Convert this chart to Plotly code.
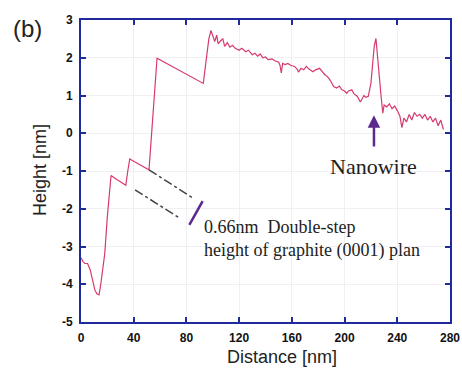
import plotly.graph_objects as go

# Height profile (Distance [nm], Height [nm])
distance = [0, 1.5, 3, 5, 7, 9, 10.5, 12, 13.7, 15, 16.5, 18, 20, 22.8, 26, 30, 34, 35.5, 37,
            40, 44, 48, 51.6, 53, 55, 57.7, 92.8, 95, 97, 98.6,
            100, 101.5, 103, 104, 106, 107.6, 109, 111, 113, 115, 117, 120, 122, 125, 127,
            130, 132, 134, 136, 138, 140, 142, 145, 147, 150, 151, 152, 153, 155, 157, 159,
            162, 164, 165, 167, 169, 171, 173, 176, 178, 181, 183, 185, 187, 189, 191.7,
            194, 196, 198, 200, 201.7, 203, 205.5, 207, 209.6, 212, 214.7, 216, 218, 220,
            221, 222.5, 223.8, 225.5, 227.5, 229, 230, 232, 234, 236, 238, 240, 242, 243.5,
            245, 247, 249, 251, 253, 255, 257, 259, 261, 263, 265, 267, 269, 271, 273, 275]
height = [-3.3, -3.4, -3.45, -3.45, -3.62, -3.9, -4.15, -4.25, -4.28, -4.0, -3.55, -3.2, -2.2, -1.12, -1.2, -1.28, -1.38, -1.0, -0.68,
          -0.74, -0.83, -0.9, -0.97, -0.3, 0.9, 1.99, 1.32, 1.9, 2.5, 2.72,
          2.6, 2.43, 2.6, 2.37, 2.45, 2.5, 2.3, 2.4, 2.28, 2.33, 2.25, 2.2, 2.25, 2.16, 2.2,
          2.08, 2.12, 2.04, 2.1, 2.0, 2.02, 1.95, 1.97, 1.92, 1.88, 1.8, 1.6, 1.85, 1.82, 1.85, 1.8,
          1.77, 1.7, 1.62, 1.72, 1.68, 1.77, 1.7, 1.63, 1.68, 1.72, 1.62, 1.55, 1.5, 1.41, 1.24,
          1.2, 1.25, 1.15, 1.12, 1.06, 1.12, 1.15, 1.05, 0.98, 0.83, 1.0, 0.95, 0.98, 1.33,
          1.77, 2.3, 2.51, 1.77, 1.06, 0.53, 0.75, 0.7, 0.78, 0.65, 0.72, 0.6, 0.45, 0.15,
          0.4, 0.3, 0.5, 0.35, 0.55, 0.45, 0.5, 0.4, 0.5, 0.35, 0.45, 0.3, 0.4, 0.2, 0.35, 0.1]

x_ticks = [0, 40, 80, 120, 160, 200, 240, 280]
y_ticks = [-5, -4, -3, -2, -1, 0, 1, 2, 3]
y_tick_labels = ["-5", "-4", "-3", "-2", "-1", "0", "1", "2", "3"]

axis_color = "#1f2a9c"
line_color = "#d63a6c"
purple = "#5a2a8e"

fig = go.Figure()
fig.add_trace(go.Scatter(x=distance, y=height, mode="lines",
                         line=dict(color=line_color, width=1.2), showlegend=False))

axis_common = dict(showline=True, mirror="ticks", linecolor=axis_color, linewidth=2,
                   ticks="inside", ticklen=5, tickwidth=1.5, tickcolor=axis_color,
                   showgrid=True, gridcolor="#efeff4", gridwidth=1, zeroline=False,
                   tickfont=dict(family="Arial, Liberation Sans", size=12, color="#111", weight="bold"))

fig.update_xaxes(range=[0, 280], tickvals=x_ticks, ticklabelstandoff=4, **axis_common)
fig.update_yaxes(range=[-5, 3], tickvals=y_ticks, ticktext=y_tick_labels, ticklabelstandoff=4, **axis_common)

# dash-dot guide lines and purple step marker
fig.add_shape(type="line", x0=51.6, y0=-0.97, x1=85, y1=-1.72,
              line=dict(color="#444", width=1.5, dash="dashdot"))
fig.add_shape(type="line", x0=41, y0=-1.5, x1=75, y1=-2.25,
              line=dict(color="#444", width=1.5, dash="dashdot"))
fig.add_shape(type="line", x0=82.2, y0=-2.43, x1=92.3, y1=-1.8,
              line=dict(color=purple, width=2.5))

# Nanowire arrow
fig.add_annotation(x=222.3, y=0.48, ax=222.3, ay=-0.39, xref="x", yref="y", axref="x", ayref="y",
                   showarrow=True, arrowhead=2, arrowsize=1, arrowwidth=2.5, arrowcolor=purple, text="")
fig.add_annotation(x=222.3, y=-0.88, xref="x", yref="y", text="Nanowire", showarrow=False,
                   xanchor="center", yanchor="middle",
                   font=dict(family="Liberation Serif, Times New Roman", size=22, color="#222"))
fig.add_annotation(x=91.5, y=-2.8, xref="x", yref="y", xanchor="left", yanchor="middle", align="left",
                   text="0.66nm  Double-step<br>height of graphite (0001) plan", showarrow=False,
                   font=dict(family="Liberation Serif, Times New Roman", size=18, color="#222"))

# titles
fig.add_annotation(x=(282 - 81) / 369, y=-(357 - 322) / 302, xref="paper", yref="paper",
                   xanchor="center", yanchor="middle",
                   text="Distance [nm]", showarrow=False,
                   font=dict(family="Arial, Liberation Sans", size=18, color="#222"))
fig.add_annotation(x=(40 - 81) / 369, y=(322 - 170) / 302, xref="paper", yref="paper",
                   xanchor="center", yanchor="middle",
                   text="Height [nm]", textangle=-90, showarrow=False,
                   font=dict(family="Arial, Liberation Sans", size=18, color="#222"))
fig.add_annotation(x=(27 - 81) / 369, y=(322 - 28) / 302, xref="paper", yref="paper",
                   xanchor="center", yanchor="middle",
                   text="(b)", showarrow=False,
                   font=dict(family="Arial, Liberation Sans", size=24, color="#222"))

fig.update_layout(width=462, height=369,
                  margin=dict(l=81, r=12, t=20, b=47, autoexpand=False),
                  paper_bgcolor="white", plot_bgcolor="white")

# remove the default page margin so the figure fills the window exactly
fig.write_html("out.html", config={"displayModeBar": False},
               post_script="document.body.style.margin='0';document.body.style.overflow='hidden';")
